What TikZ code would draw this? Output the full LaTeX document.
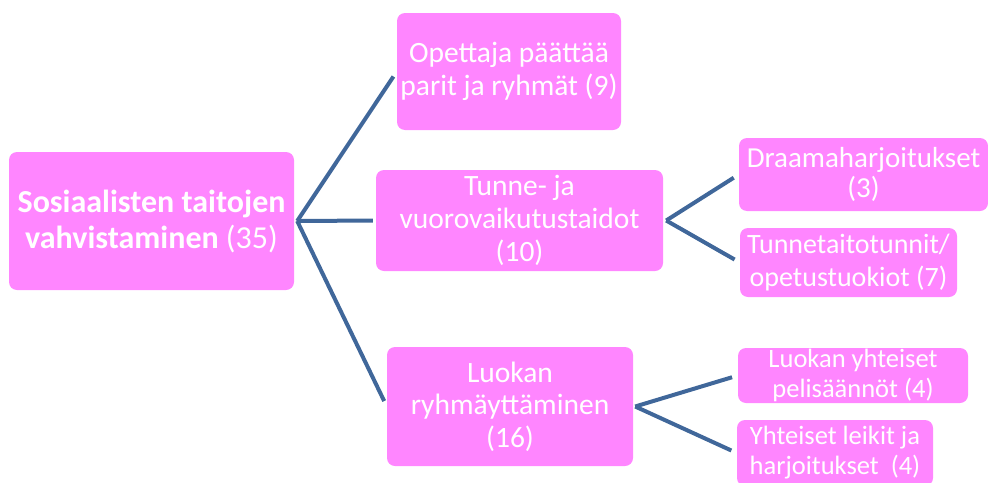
\documentclass[tikz,border=0pt]{standalone}
\usepackage{fontspec}
\setmainfont{Carlito}
\usepackage{tikz}
\definecolor{boxpink}{RGB}{255,134,255}
\definecolor{linkblue}{RGB}{64,103,154}

\begin{document}
\begin{tikzpicture}[x=1pt,y=-1pt,
        box/.style={fill=boxpink, rounded corners=8pt, inner sep=0pt,
            align=center, text=white},
        link/.style={draw=linkblue, line width=4pt, shorten >=6pt}]
    \clip (0,0) rectangle (988,482);

    % main topic
    \node[box, minimum width=285pt, minimum height=138pt,
        font=\fontsize{32}{36}\selectfont] (root) at (151.5,221)
        {\textbf{Sosiaalisten taitojen}\\\textbf{vahvistaminen} (35)};

    % second level
    \node[box, minimum width=224pt, minimum height=117pt,
        font=\fontsize{29.5}{33}\selectfont] (teacher) at (509,71.5)
        {Opettaja päättää\\parit ja ryhmät (9)};
    \node[box, minimum width=287pt, minimum height=101pt,
        font=\fontsize{29.5}{33}\selectfont] (emotion) at (519.5,220.5)
        {Tunne- ja\\vuorovaikutustaidot\\(10)};
    \node[box, minimum width=246pt, minimum height=119pt,
        font=\fontsize{29.5}{32.5}\selectfont] (grouping) at (510,406.5)
        {Luokan\\ryhmäyttäminen\\(16)};

    % third level
    \node[box, minimum width=249pt, minimum height=73pt,
        font=\fontsize{29}{30}\selectfont] (drama) at (863.5,174.5)
        {Draamaharjoitukset\\(3)};
    \node[box, minimum width=217pt, minimum height=69pt,
        font=\fontsize{28}{33}\selectfont] (lessons) at (848.5,262.5)
        {Tunnetaitotunnit/\\opetustuokiot (7)};
    \node[box, minimum width=230pt, minimum height=55pt,
        font=\fontsize{26.5}{30}\selectfont] (rules) at (853,375.5)
        {Luokan yhteiset\\pelisäännöt (4)};
    \node[box, minimum width=196pt, minimum height=66pt,
        font=\fontsize{26.5}{30}\selectfont] (games) at (835,453)
        {Yhteiset leikit ja\\harjoitukset~~(4)};

    % branch points
    \coordinate (hubroot) at ([xshift=3pt]root.east);
    \coordinate (hubemotion) at ([xshift=3pt]emotion.east);
    \coordinate (hubgrouping) at ([xshift=2pt]grouping.east);

    \draw[link] (hubroot) -- (teacher.west);
    \draw[link, shorten >=3pt] (hubroot) -- (emotion.west);
    \draw[link] (hubroot) -- (grouping.west);

    \draw[link] (hubemotion) -- (drama.west);
    \draw[link] (hubemotion) -- (lessons.west);

    \draw[link] (hubgrouping) -- (rules.west);
    \draw[link] (hubgrouping) -- (games.west);
\end{tikzpicture}
\end{document}
